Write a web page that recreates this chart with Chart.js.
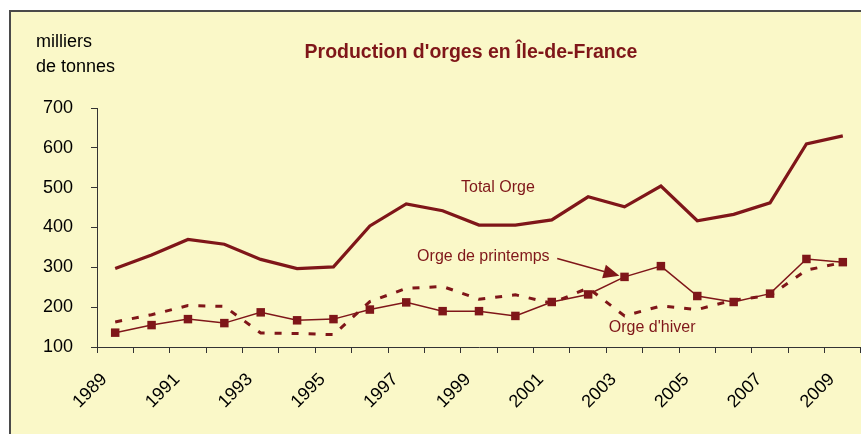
<!DOCTYPE html>
<html>
<head>
<meta charset="utf-8">
<script src="https://cdn.jsdelivr.net/npm/chart.js@4/dist/chart.umd.min.js"></script>
<style>
  html, body { margin: 0; padding: 0; background: #ffffff; width: 861px; height: 434px; overflow: hidden; }
  #frame { position: absolute; left: 9px; top: 10px; width: 900px; height: 460px;
           background: #FAF8C8; border-left: 2px solid #4a4a4a; border-top: 2px solid #4a4a4a; }
  #c { position: absolute; left: 0; top: 0; }
</style>
</head>
<body>
<div id="frame"></div>
<canvas id="c" width="867" height="434"></canvas>
<script>
// ---- data ----
const years = ['1989','1990','1991','1992','1993','1994','1995','1996','1997','1998','1999',
               '2000','2001','2002','2003','2004','2005','2006','2007','2008','2009'];
const totalOrge = [297, 331, 370, 358, 320, 297, 301, 404, 459, 442, 406,
                   406, 419, 477, 452, 504, 417, 433, 462, 610, 630];
const orgePrintemps = [136, 155, 170, 160, 187, 167, 170, 194, 212, 190, 190,
                       178, 213, 232, 276, 303, 228, 213, 234, 321, 313];
const orgeHiver = [163, 181, 204, 202, 135, 134, 131, 214, 247, 252, 220,
                   231, 210, 248, 178, 203, 194, 218, 229, 293, 312];
const yTicks = [100, 200, 300, 400, 500, 600, 700];
const titleText = "Production d'orges en Île-de-France";
const unitLines = ['milliers', 'de tonnes'];
// series labels placed in data coordinates [category index, value]
const seriesLabels = [
  { text: 'Total Orge', at: [10.52, 499] },
  { text: 'Orge de printemps', at: [10.12, 328] },
  { text: "Orge d'hiver", at: [14.76, 148] }
];
const arrowFrom = [12.15, 322];
const arrowTo = [13.86, 279];

const RED = '#7F1619';
const FONT = '"Liberation Sans", Arial, Helvetica, sans-serif';

const textPlugin = {
  id: 'texts',
  afterDraw(chart) {
    const { ctx, scales: { x, y } } = chart;
    ctx.save();
    // title
    ctx.fillStyle = RED;
    ctx.font = 'bold 19.5px ' + FONT;
    ctx.textAlign = 'center';
    ctx.textBaseline = 'alphabetic';
    ctx.fillText(titleText, 471, 58);
    // unit
    ctx.fillStyle = '#000000';
    ctx.font = '18px ' + FONT;
    ctx.textAlign = 'left';
    ctx.fillText(unitLines[0], 36, 46.5);
    ctx.fillText(unitLines[1], 36, 71.5);
    // series labels
    ctx.fillStyle = RED;
    ctx.font = '16px ' + FONT;
    ctx.textAlign = 'center';
    ctx.textBaseline = 'middle';
    for (const l of seriesLabels) {
      ctx.fillText(l.text, x.getPixelForValue(l.at[0]), y.getPixelForValue(l.at[1]));
    }
    // arrow
    const x0 = x.getPixelForValue(arrowFrom[0]), y0 = y.getPixelForValue(arrowFrom[1]);
    const x1 = x.getPixelForValue(arrowTo[0]), y1 = y.getPixelForValue(arrowTo[1]);
    const ang = Math.atan2(y1 - y0, x1 - x0);
    const hl = 16, hw = 7;
    const bx = x1 - hl * Math.cos(ang), by = y1 - hl * Math.sin(ang);
    ctx.strokeStyle = RED;
    ctx.lineWidth = 1.5;
    ctx.beginPath();
    ctx.moveTo(x0, y0);
    ctx.lineTo(bx, by);
    ctx.stroke();
    ctx.beginPath();
    ctx.moveTo(x1, y1);
    ctx.lineTo(bx + hw * Math.sin(ang), by - hw * Math.cos(ang));
    ctx.lineTo(bx - hw * Math.sin(ang), by + hw * Math.cos(ang));
    ctx.closePath();
    ctx.fill();
    ctx.restore();
  }
};

new Chart(document.getElementById('c'), {
  type: 'line',
  data: {
    labels: years,
    datasets: [
      {
        label: 'Orge de printemps',
        data: orgePrintemps,
        borderColor: RED,
        backgroundColor: RED,
        borderWidth: 1.5,
        pointStyle: 'rect',
        pointRadius: 6,
        pointBorderWidth: 0,
        pointBackgroundColor: RED,
        tension: 0
      },
      {
        label: "Orge d'hiver",
        data: orgeHiver,
        borderColor: RED,
        borderWidth: 3,
        borderDash: [7, 10],
        pointRadius: 0,
        tension: 0
      },
      {
        label: 'Total Orge',
        data: totalOrge,
        borderColor: RED,
        borderWidth: 3.2,
        pointRadius: 0,
        tension: 0
      }
    ]
  },
  options: {
    responsive: false,
    animation: false,
    devicePixelRatio: 1,
    layout: { padding: { top: 108, left: 0, right: 0, bottom: 0 } },
    plugins: { legend: { display: false }, tooltip: { enabled: false }, title: { display: false } },
    scales: {
      x: {
        type: 'category',
        offset: true,
        grid: { offset: true, drawOnChartArea: false, drawTicks: true, tickLength: 6, color: '#333333', lineWidth: 1 },
        border: { display: true, color: '#333333', width: 1 },
        ticks: {
          autoSkip: false,
          minRotation: 45,
          maxRotation: 45,
          padding: 16,
          labelOffset: -11,
          color: '#000000',
          font: { family: FONT, size: 18 },
          callback: function (val, idx) { return idx % 2 === 0 ? years[idx] : ''; }
        },
        afterFit(scale) { scale.height = 87; scale.paddingLeft = 0; scale.paddingRight = 0; }
      },
      y: {
        min: 100,
        max: 700,
        afterBuildTicks(scale) { scale.ticks = yTicks.map(v => ({ value: v })); },
        grid: { drawOnChartArea: false, drawTicks: true, tickLength: 6, color: '#333333', lineWidth: 1 },
        border: { display: true, color: '#333333', width: 1 },
        ticks: {
          padding: 18,
          color: '#000000',
          font: { family: FONT, size: 18 }
        },
        afterFit(scale) { scale.width = 97; scale.paddingTop = 0; scale.paddingBottom = 0; }
      }
    }
  },
  plugins: [textPlugin]
});
</script>
</body>
</html>
